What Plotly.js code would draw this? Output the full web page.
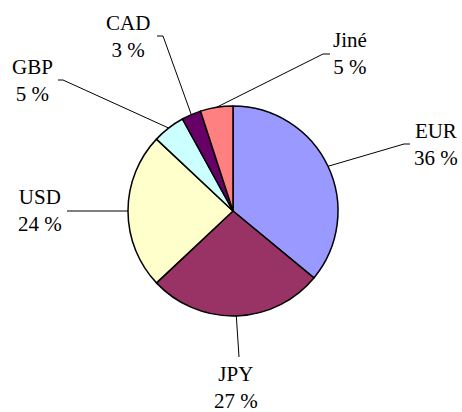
<!DOCTYPE html>
<html>
<head>
<meta charset="utf-8">
<script src="https://cdn.plot.ly/plotly-3.0.1.min.js"></script>
<style>html,body{margin:0;padding:0;background:#fff}
#fontwarm{position:absolute;left:200px;top:200px;z-index:0;font:21px 'Liberation Serif';color:#fff}
#chart{position:absolute;left:0;top:0;z-index:1}</style>
</head>
<body>
<div id="fontwarm">EUR Jiné %</div>
<div id="chart"></div>
<script>
// ---- data ----
const currencies = ["EUR", "JPY", "USD", "GBP", "CAD", "Jiné"];
const shares = [36, 27, 24, 5, 3, 5];
const sliceColors = ["#9999FF", "#993366", "#FFFFCC", "#CCFFFF", "#660066", "#FF8080"];

// ---- layout (pixels) ----
const W = 462, H = 412;
const cx = 233, cy = 211, R = 105;
const FONT = "Liberation Serif";
// label text centres and leader elbows (pixels)
const labelCenter = [[436, 144], [236, 387], [40, 210], [32, 80], [128, 37], [350, 54]];
const leaderElbow = [[404, 144], [239, 357], [67, 211], [63, 80], [163, 36], [323, 54]];
const leaderEnd   = [[410, 144], null, null, [58, 80], [157, 36], [330, 54]];

const px = x => x / W;
const py = y => 1 - y / H;

const total = shares.reduce((a, b) => a + b, 0);
let cum = 0;
const shapes = [];
const annotations = [];
shares.forEach((v, i) => {
  const mid = (cum + v / 2) / total;
  cum += v;
  const ang = mid * 2 * Math.PI;
  const ex = cx + R * Math.sin(ang);
  const ey = cy - R * Math.cos(ang);
  let path = `M ${px(ex)} ${py(ey)} L ${px(leaderElbow[i][0])} ${py(leaderElbow[i][1])}`;
  if (leaderEnd[i]) path += ` L ${px(leaderEnd[i][0])} ${py(leaderEnd[i][1])}`;
  shapes.push({type: "path", xref: "paper", yref: "paper", path: path,
               line: {color: "#000", width: 1}});
  annotations.push({
    xref: "paper", yref: "paper",
    x: px(labelCenter[i][0]), y: py(labelCenter[i][1]),
    xanchor: "center", yanchor: "middle",
    text: currencies[i] + "<br>" + Math.round(v / total * 100) + " %",
    showarrow: false, align: "center",
    font: {family: FONT, size: 21, color: "#000"}
  });
});

const trace = {
  type: "pie",
  labels: currencies,
  values: shares,
  sort: false,
  direction: "clockwise",
  rotation: 0,
  textinfo: "none",
  hoverinfo: "label+percent",
  showlegend: false,
  marker: {colors: sliceColors, line: {color: "#000", width: 1.5}},
  domain: {x: [(cx - R) / W, (cx + R) / W], y: [(H - cy - R) / H, (H - cy + R) / H]}
};

const layout = {
  width: W, height: H,
  margin: {l: 0, r: 0, t: 0, b: 0},
  paper_bgcolor: "#fff",
  showlegend: false,
  font: {family: FONT},
  shapes: shapes,
  annotations: annotations
};

Plotly.newPlot("chart", [trace], layout, {displayModeBar: false});
if (document.fonts && document.fonts.ready) {
  document.fonts.ready.then(() => Plotly.react("chart", [trace], layout, {displayModeBar: false}));
}
</script>
</body>
</html>
